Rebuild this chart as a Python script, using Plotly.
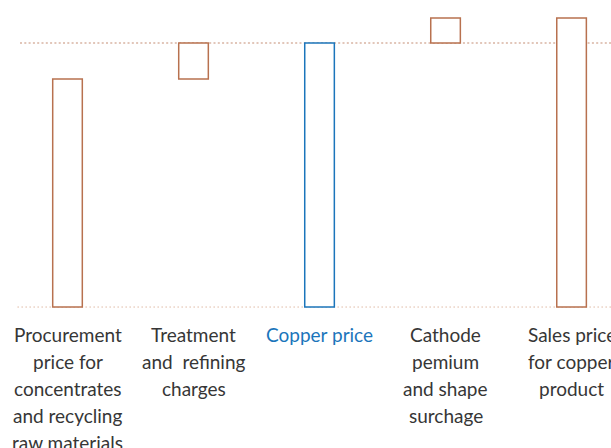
import plotly.graph_objects as go

categories = ["procurement", "tcrc", "copper", "premium", "sales"]
label_lines = [
    ["Procurement", "price for", "concentrates", "and recycling", "raw materials"],
    ["Treatment", "and  refining", "charges"],
    ["Copper price"],
    ["Cathode", "pemium", "and shape", "surchage"],
    ["Sales price", "for copper", "product"],
]
bar_base = [0, 86.4, 0, 100, 0]
bar_height = [86.4, 13.6, 100, 9.5, 109.5]
baseline_level = 0
copper_level = 100

BROWN = "#b8714f"
BLUE = "#1b75bb"
TEXT = "#363636"
line_colors = [BROWN, BROWN, BLUE, BROWN, BROWN]

fig = go.Figure(
    go.Bar(
        x=list(range(len(categories))),
        y=bar_height,
        base=bar_base,
        width=0.235,
        marker=dict(color="white", line=dict(color=line_colors, width=1.5)),
        hoverinfo="skip",
    )
)

# dotted reference lines (copper price level and zero base)
fig.add_shape(type="line", xref="paper", x0=0, x1=1, yref="y",
              y0=copper_level, y1=copper_level, layer="below",
              line=dict(color="#e2c6b9", width=2, dash="2px,2.3px"))
fig.add_shape(type="line", xref="paper", x0=-0.004, x1=1, yref="y",
              y0=baseline_level, y1=baseline_level, layer="below",
              line=dict(color="#cf9677", width=1, dash="1px,3px"))

annotations = []
for i, lines in enumerate(label_lines):
    color = BLUE if categories[i] == "copper" else TEXT
    for k, line in enumerate(lines):
        annotations.append(
            dict(
                x=i, xref="x", y=0, yref="paper",
                yanchor="middle", xanchor="center",
                yshift=-27 * (k + 1) + 4,
                text=line, showarrow=False,
                font=dict(family="Lato, Open Sans, sans-serif", size=19, color=color),
            )
        )

fig.update_xaxes(
    range=[-0.377, 4.313], showticklabels=False, showgrid=False,
    zeroline=False, showline=False, ticks="",
)
fig.update_yaxes(
    range=[-1.5, 116.29], showticklabels=False, showgrid=False,
    zeroline=False, showline=False, ticks="",
)
fig.update_layout(
    width=611, height=448,
    margin=dict(l=20, r=0, t=0, b=137),
    paper_bgcolor="white", plot_bgcolor="white",
    showlegend=False,
    annotations=annotations,
)
fig.write_html(
    "out.html",
    config={"displayModeBar": False},
    post_script="document.body.style.margin='0';document.body.style.overflow='hidden';",
)
